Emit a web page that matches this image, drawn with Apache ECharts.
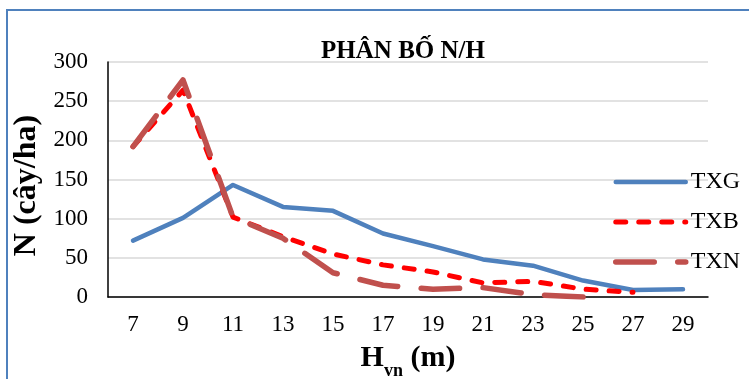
<!DOCTYPE html>
<html><head><meta charset="utf-8">
<script src="https://cdn.jsdelivr.net/npm/echarts@6/dist/echarts.min.js"></script>
<style>html,body{margin:0;padding:0;background:#fff}#c{width:749px;height:379px}</style>
</head><body><div id="c"></div>
<script>
var categories = ['7','9','11','13','15','17','19','21','23','25','27','29'];
var txg = [72, 101, 143, 115, 110, 81, 65, 48, 40, 21, 9, 10];
var txb = [192, 264, 102, 77, 55, 41, 32, 18, 20, 10, 6];
var txn = [192, 277, 102, 75, 31, 15, 10, 12, 3, 0];
var F = 'Liberation Serif';
var chart = echarts.init(document.getElementById('c'));
chart.setOption({
  animation: false,
  title: {text: 'PHÂN BỐ N/H', left: 398, top: 34, textAlign: 'center',
    textStyle: {fontFamily: F, fontSize: 25, fontWeight: 'bold', color: '#000'}},
  graphic: [{type: 'rect', shape: {x: 7, y: 10, width: 800, height: 500},
    style: {fill: 'none', stroke: '#4f81bd', lineWidth: 2}}],
  grid: {left: 108, right: 41, top: 62, bottom: 82, outerBoundsMode: 'none'},
  legend: {orient: 'vertical', left: 613, top: 170, padding: 0, itemGap: 16, itemWidth: 70, itemHeight: 14,
    itemStyle: {opacity: 0},
    lineStyle: {width: 'inherit'},
    textStyle: {fontFamily: F, fontSize: 24, color: '#000', lineHeight: 24}, data: ['TXG','TXB','TXN']},
  xAxis: {type: 'category', data: categories, boundaryGap: true,
    axisLine: {lineStyle: {color: '#000', width: 1.5}}, axisTick: {show: false},
    axisLabel: {fontFamily: F, fontSize: 23, color: '#000', margin: 16},
    name: '{a|H}{b|vn}{a| (m)}', nameLocation: 'middle', nameGap: 46,
    nameTextStyle: {rich: {a: {fontFamily: F, fontSize: 30, fontWeight: 'bold', color: '#000', verticalAlign: 'bottom'},
      b: {fontFamily: F, fontSize: 18, fontWeight: 'bold', color: '#000', verticalAlign: 'bottom', padding: [0,0,-7,0]}}}},
  yAxis: {type: 'value', min: 0, max: 300, interval: 50,
    axisLine: {show: true, lineStyle: {color: '#000', width: 1.5}}, axisTick: {show: false},
    splitLine: {lineStyle: {color: '#d9d9d9', width: 1.5}},
    axisLabel: {fontFamily: F, fontSize: 23, color: '#000', margin: 20},
    name: 'N (cây/ha)', nameLocation: 'middle', nameGap: 62,
    nameTextStyle: {fontFamily: F, fontSize: 32, fontWeight: 'bold', color: '#000', padding: [0, 12, 0, 0]}},
  series: [
    {name: 'TXG', type: 'line', data: txg, symbol: 'none', color: '#4f81bd',
      lineStyle: {width: 4.5, color: '#4f81bd', cap: 'round', join: 'round'}},
    {name: 'TXB', type: 'line', data: txb, symbol: 'none', color: '#ff0000',
      lineStyle: {width: 5, color: '#ff0000', type: [10, 13], cap: 'round', join: 'round'}},
    {name: 'TXN', type: 'line', data: txn, symbol: 'none', color: '#c0504d',
      lineStyle: {width: 5.5, color: '#c0504d', type: [38.5, 23.5], cap: 'round', join: 'round'}}
  ]
});
</script></body></html>
